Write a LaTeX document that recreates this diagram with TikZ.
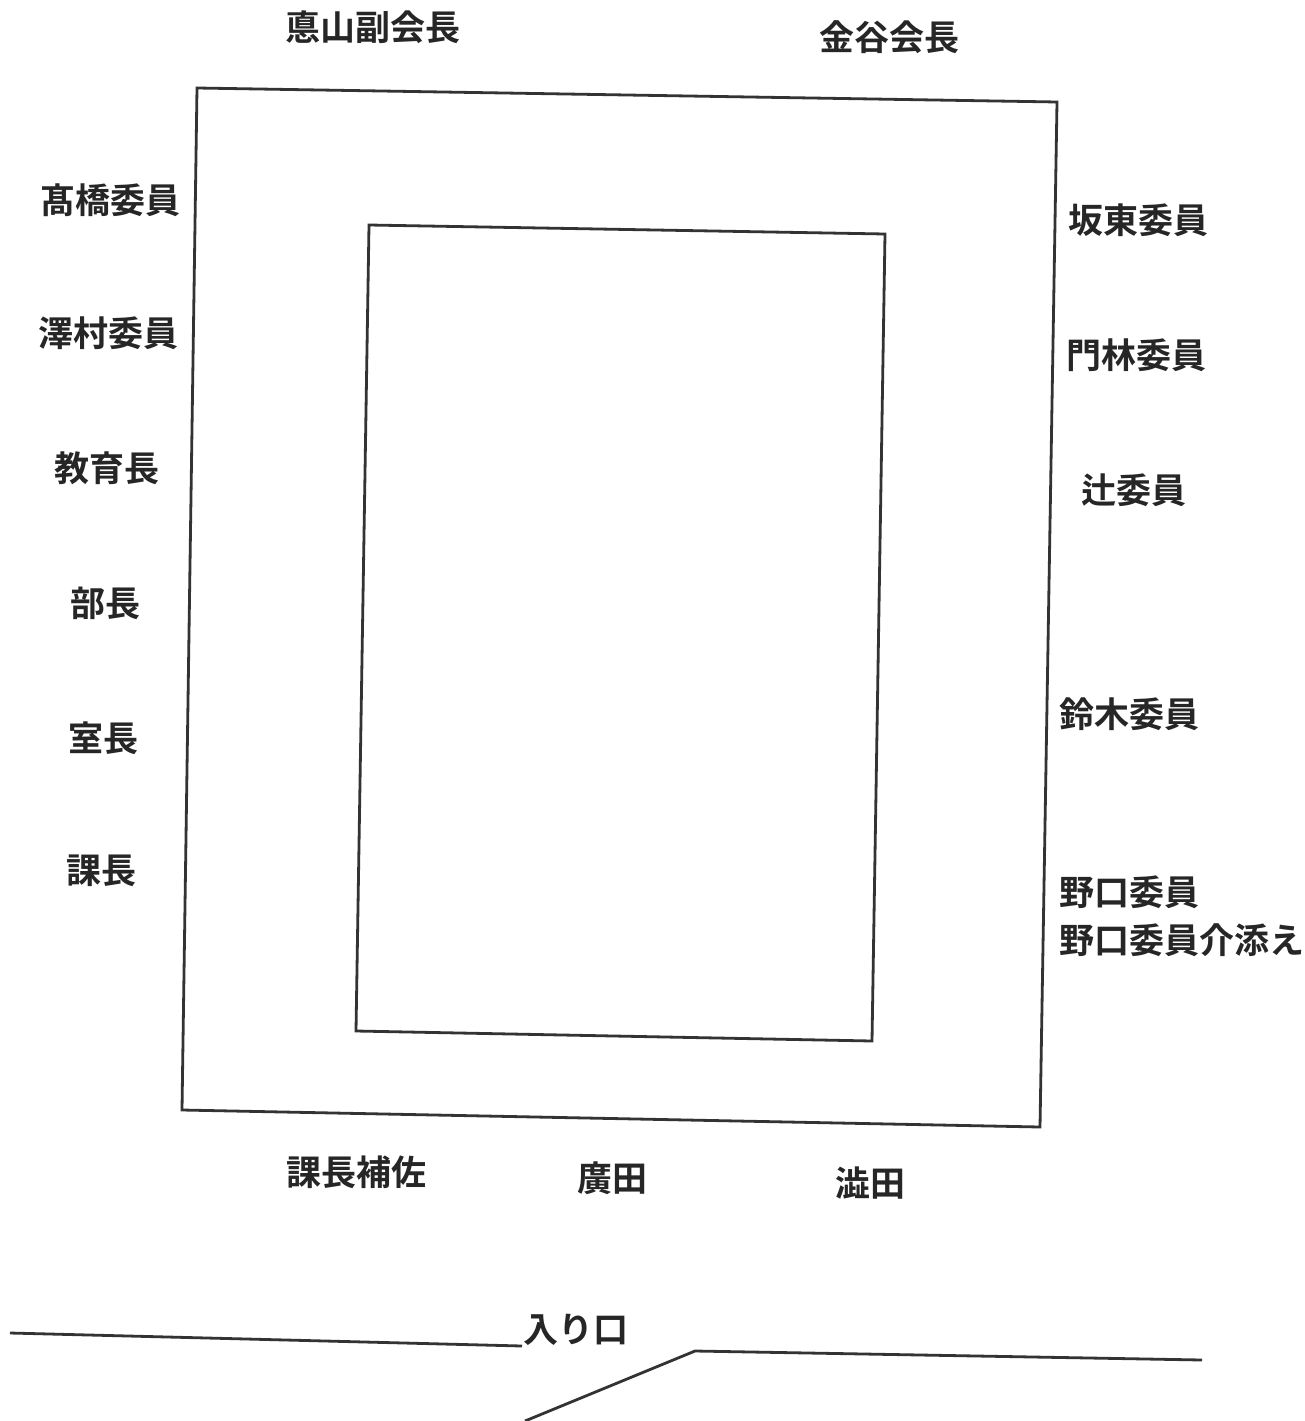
\documentclass[tikz,border=0pt]{standalone}
\usepackage{fontspec}
\newfontfamily\jpfont{Noto Sans CJK JP}[BoldFont={* Bold}]
\tikzset{
	seat/.style={font=\jpfont\bfseries\fontsize{35}{42}\selectfont, text=black!85, inner sep=0pt},
	wall/.style={draw=black!80, line width=2.8pt, line join=miter}
}

\begin{document}
\begin{tikzpicture}[x=1pt,y=-1pt]
	\useasboundingbox (0,0) rectangle (1305,1421);

	% tables
	\draw[wall] (197,88) -- (1057,102) -- (1040,1127) -- (182,1110) -- cycle;
	\draw[wall] (369,225) -- (885,234) -- (872,1041) -- (356,1031) -- cycle;

	% top
	\node[seat] (fukukaicho) at (373,27) {悳山副会長};
	\node[seat] (kaicho) at (889,37) {金谷会長};

	% left side
	\node[seat] (takahashi) at (110,200) {髙橋委員};
	\node[seat] (sawamura) at (108,333) {澤村委員};
	\node[seat] (kyoikucho) at (107,468) {教育長};
	\node[seat] (bucho) at (105,603) {部長};
	\node[seat] (shitsucho) at (103,738) {室長};
	\node[seat] (kacho) at (101,871) {課長};

	% right side
	\node[seat] (bando) at (1138,220) {坂東委員};
	\node[seat] (kadobayashi) at (1136,355) {門林委員};
	\node[seat] (tsuji) at (1134,490) {辻委員};
	\node[seat] (suzuki) at (1129,714) {鈴木委員};
	\node[seat,anchor=west] (noguchi) at (1059,892) {野口委員};
	\node[seat,anchor=west] (kaizoe) at (1059,940) {野口委員介添え};

	% bottom
	\node[seat] (kachohosa) at (356,1172) {課長補佐};
	\node[seat] (hirota) at (612,1178) {廣田};
	\node[seat] (shibuta) at (870,1183) {澁田};

	% entrance
	\node[seat] (iriguchi) at (576,1330) {入り口};
	\coordinate (doorL) at (522,1346);
	\coordinate (doorR) at (695,1351);
	\draw[wall] (10,1333) -- (doorL);
	\draw[wall] (525,1421) -- (doorR) -- (1202,1360);
\end{tikzpicture}
\end{document}
